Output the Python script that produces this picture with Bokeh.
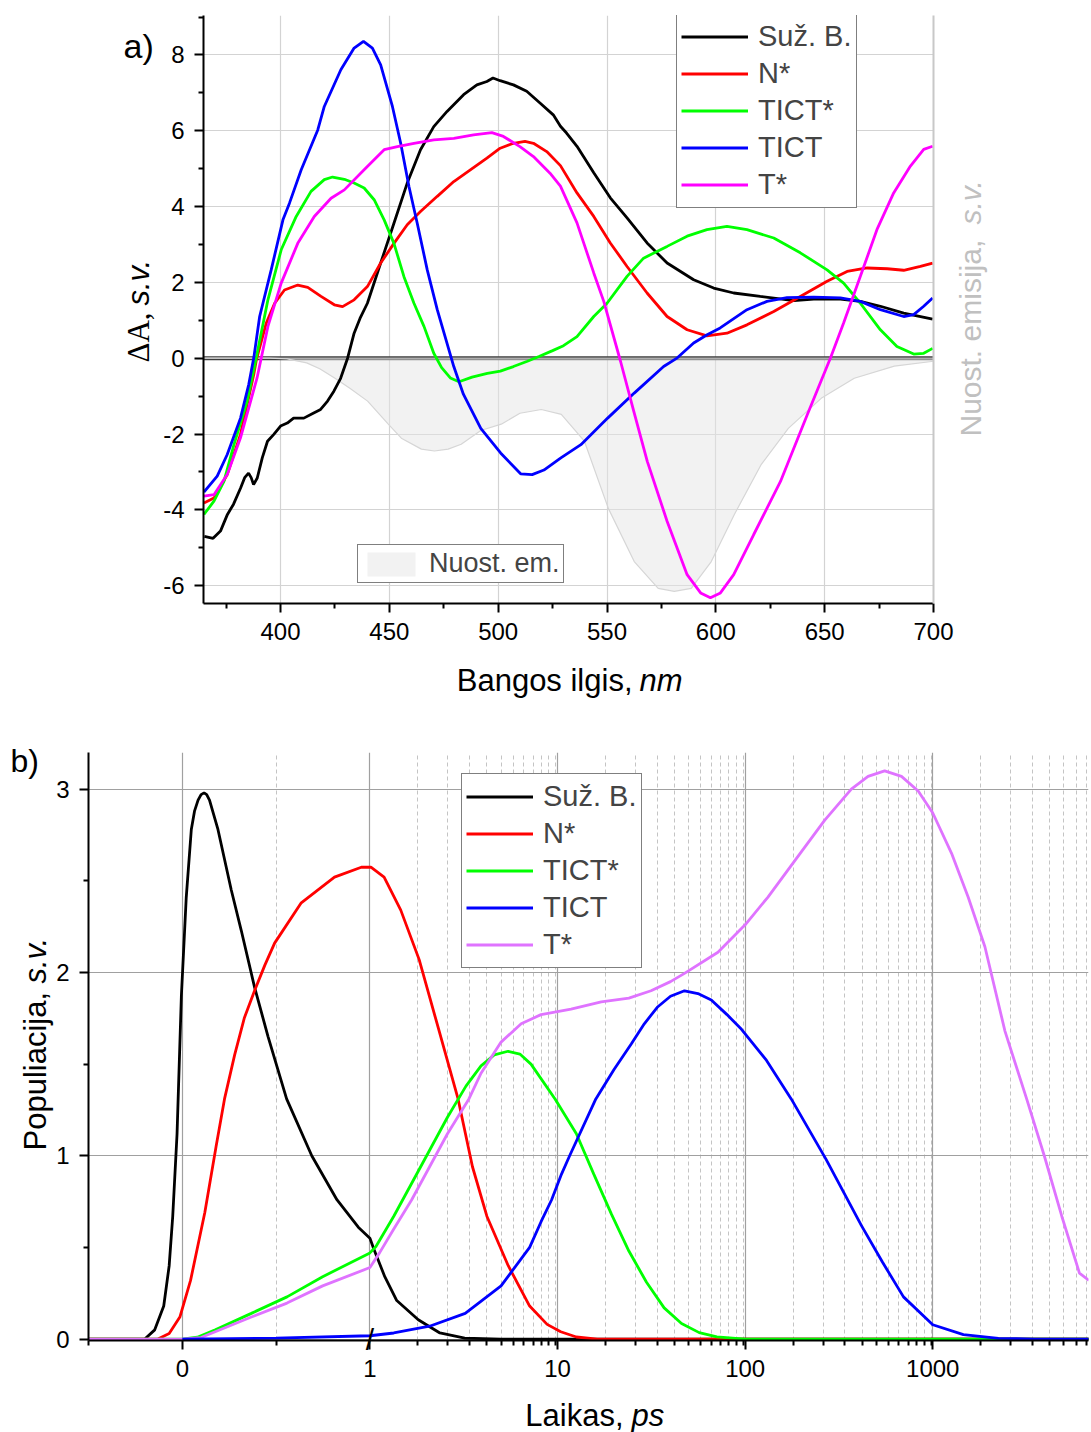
import math

from bokeh.embed import file_html
from bokeh.models import (FixedTicker, Label, Legend, LegendItem, LinearAxis,
                          Range1d, Span)
from bokeh.plotting import figure
from bokeh.resources import INLINE

FONT = "Liberation Sans"

# ---------------------------------------------------------------------------
# a) species-associated difference spectra, wavelength in nm, dA in s.v.
# ---------------------------------------------------------------------------
wl_susb = [365, 369, 372.4, 375.6, 378.4, 381.6, 383.5, 385.3, 386.5, 387.6, 389.3,
           391.6, 394, 396.9, 400, 403.1, 406, 410.7, 415, 418.4, 421.6, 424.5,
           427.6, 430.8, 433.8, 436.5, 439.9, 446, 452.1, 458.2, 464.3, 470.4,
           476.5, 484.1, 490.2, 494.8, 497.6, 500.9, 507, 513.1, 519.2, 525.3,
           528.6, 531.4, 536.2, 543.9, 551.5, 559.2, 568.4, 577.6, 589.8, 599,
           608.2, 620.4, 635.8, 645, 657.2, 666.4, 675.6, 686.3, 699.6]
da_susb = [-4.70, -4.75, -4.56, -4.12, -3.85, -3.43, -3.15, -3.03, -3.15, -3.33, -3.16,
           -2.63, -2.19, -2.01, -1.79, -1.71, -1.58, -1.58, -1.45, -1.35, -1.13, -0.87,
           -0.53, 0.0, 0.66, 1.05, 1.45, 2.51, 3.56, 4.62, 5.50, 6.11,
           6.51, 6.95, 7.21, 7.30, 7.39, 7.32, 7.21, 7.04, 6.73, 6.42,
           6.12, 5.94, 5.59, 4.89, 4.23, 3.70, 3.04, 2.51, 2.07, 1.85,
           1.72, 1.63, 1.52, 1.56, 1.56, 1.50, 1.37, 1.19, 1.03]

wl_n = [364.8, 369.4, 375.5, 381.6, 387.7, 388.9, 393.4, 397.3, 401.8, 407.9, 412.5,
        418.6, 424.7, 428.5, 433.8, 439.9, 446, 452.1, 458.2, 464.3, 472, 479.6,
        487.2, 494.8, 500.9, 507, 512.3, 516.2, 522.3, 528.6, 536.2, 543.9, 551.5,
        559.2, 568.4, 577.6, 586.8, 595.9, 605.1, 614.3, 626.6, 638.8, 651.1,
        660.3, 669.5, 678.7, 686.3, 694, 699.6]
da_n = [-3.82, -3.69, -3.07, -2.01, -0.43, -0.04, 0.92, 1.45, 1.80, 1.93, 1.87,
        1.63, 1.41, 1.36, 1.54, 1.89, 2.51, 3.03, 3.52, 3.87, 4.27, 4.66,
        4.97, 5.28, 5.54, 5.67, 5.72, 5.67, 5.45, 5.08, 4.36, 3.74, 3.04,
        2.42, 1.72, 1.10, 0.75, 0.59, 0.66, 0.88, 1.23, 1.63, 2.03,
        2.29, 2.38, 2.36, 2.32, 2.42, 2.51]

wl_tict_x = [364.8, 369.4, 374, 378.6, 384.7, 388.5, 394.2, 400.3, 407.2, 414, 420.1,
             423.9, 429.3, 433.8, 438.4, 443, 447.6, 452.1, 456.7, 461.3, 465.9, 470.4,
             474, 478, 482, 488, 495, 501, 507, 513.4, 519, 525, 530, 536.2, 543.9,
             550, 559.2, 566.8, 577.6, 586.8, 595.9, 605.1, 614.3, 626.6, 638.8,
             651.1, 658.7, 666.4, 675.6, 683.2, 690.9, 695.5, 699.6]
da_tict_x = [-4.12, -3.77, -3.25, -2.28, -1.13, -0.08, 1.54, 2.86, 3.74, 4.40, 4.71,
             4.78, 4.72, 4.62, 4.49, 4.18, 3.65, 3.03, 2.15, 1.45, 0.84, 0.13,
             -0.25, -0.52, -0.62, -0.50, -0.40, -0.34, -0.22, -0.08, 0.05, 0.20, 0.33,
             0.57, 1.10, 1.45, 2.16, 2.64, 2.95, 3.22, 3.39, 3.48, 3.39, 3.17, 2.78,
             2.33, 1.98, 1.45, 0.75, 0.31, 0.11, 0.13, 0.26]

wl_tict = [364.8, 370.9, 375.5, 381.6, 385.4, 387.7, 390.4, 395.7, 401.1, 404.1, 409.5,
           417.1, 420.1, 427.7, 433.8, 438.1, 442.2, 446, 451.4, 455.2, 459, 462.8,
           467.4, 472, 479.6, 484, 492, 501.1, 510.3, 515.6, 521, 528.8, 538, 550.3,
           562.5, 576, 582.3, 589.8, 596, 602, 614.3, 623.5, 632.7, 645, 657.2,
           666.4, 675.6, 686.3, 690.9, 695.5, 699.6]
da_tict = [-3.53, -3.11, -2.54, -1.58, -0.69, 0.01, 1.10, 2.33, 3.65, 4.09, 4.97,
           6.02, 6.64, 7.61, 8.18, 8.36, 8.18, 7.74, 6.64, 5.67, 4.53, 3.56,
           2.33, 1.28, -0.22, -0.95, -1.85, -2.50, -3.05, -3.07, -2.95, -2.63, -2.28, -1.58,
           -0.92, -0.22, 0.01, 0.40, 0.62, 0.80, 1.28, 1.50, 1.60, 1.61, 1.59,
           1.50, 1.28, 1.10, 1.15, 1.37, 1.59]

wl_t = [364.8, 369.4, 375.5, 381.6, 389.2, 394.2, 400.3, 407.9, 415.5, 423.2, 429.3,
        438.4, 447.6, 453.7, 461.3, 470.4, 479.6, 488.7, 497.1, 502.4, 510, 516.2,
        523.8, 528.6, 536.2, 543.9, 548.5, 556.2, 562.3, 568.5, 577.6, 586.8, 593,
        597.5, 602.1, 608.2, 617.4, 629.7, 642, 652.7, 658.7, 666.4, 674, 681.7,
        689.4, 695.5, 699.6]
da_t = [-3.64, -3.60, -3.07, -2.10, -0.52, 0.84, 1.98, 3.03, 3.74, 4.22, 4.44,
        4.97, 5.50, 5.58, 5.67, 5.76, 5.80, 5.89, 5.95, 5.85, 5.58, 5.32,
        4.88, 4.54, 3.57, 2.25, 1.50, -0.08, -1.40, -2.72, -4.30, -5.71, -6.19,
        -6.32, -6.19, -5.71, -4.65, -3.25, -1.49, 0.01, 0.93, 2.16, 3.39, 4.36,
        5.07, 5.51, 5.59]

# steady-state emission, normalised (plotted downwards on its own axis)
wl_em = [365, 395, 403, 412, 418, 425, 432, 440, 449.5, 455.5, 464.7, 470.7, 477,
         483, 492, 501.4, 510, 519.8, 529, 539.6, 550.6, 562.5, 573.5, 580.9,
         588.7, 597.9, 608.5, 620.9, 633.3, 648.4, 663.6, 682, 700]
em = [0, 0, 0.003, 0.02, 0.045, 0.086, 0.13, 0.184, 0.283, 0.343, 0.39, 0.398, 0.39,
      0.369, 0.31, 0.283, 0.236, 0.22, 0.241, 0.356, 0.644, 0.872, 0.987, 1.0,
      0.987, 0.872, 0.67, 0.455, 0.301, 0.172, 0.086, 0.034, 0.013]

wl_ticks = [400, 450, 500, 550, 600, 650, 700]
wl_minor = [375, 425, 475, 525, 575, 625, 675]
da_ticks = [-6, -4, -2, 0, 2, 4, 6, 8]
da_tick_labels = ["-6", "-4", "-2", "0", "2", "4", "6", "8"]
da_minor = [-5, -3, -1, 1, 3, 5, 7, 9]

# ---------------------------------------------------------------------------
# b) species populations vs delay time, ps
# ---------------------------------------------------------------------------
t_susb = [-0.5, -0.2, -0.147, -0.099, -0.07, -0.051, -0.028, -0.005, 0.021, 0.048,
          0.065, 0.084, 0.10, 0.116, 0.13, 0.145, 0.19, 0.261, 0.314, 0.385, 0.457,
          0.556, 0.69, 0.824, 0.938, 1.0, 1.05, 1.2, 1.39, 1.81, 2.36, 3.2, 5, 7000]
p_susb = [0, 0, 0.05, 0.18, 0.40, 0.67, 1.12, 1.87, 2.41, 2.78,
          2.88, 2.94, 2.97, 2.98, 2.97, 2.94, 2.78, 2.45, 2.23, 1.92, 1.65,
          1.31, 1.00, 0.76, 0.61, 0.55, 0.49, 0.34, 0.21, 0.105, 0.033, 0.005, 0, 0]

t_n = [-0.5, -0.13, -0.07, -0.013, 0.044, 0.12, 0.18, 0.225, 0.279, 0.33, 0.385, 0.44,
       0.492, 0.634, 0.811, 0.954, 1.012, 1.19, 1.46, 1.83, 2.31, 2.95, 3.52, 4.2, 5.46,
       7.1, 8.8, 10.4, 12.6, 16.3, 7000]
p_n = [0, 0, 0.03, 0.12, 0.32, 0.69, 1.05, 1.31, 1.55, 1.75, 1.90, 2.04,
       2.16, 2.38, 2.52, 2.574, 2.574, 2.52, 2.34, 2.07, 1.70, 1.31, 0.94, 0.67, 0.40,
       0.18, 0.08, 0.04, 0.011, 0.0, 0]

t_tict_x = [-0.5, 0, 0.08, 0.176, 0.368, 0.558, 0.748, 1.0, 1.077, 1.34, 1.67, 2.08,
            2.59, 3.25, 3.91, 4.6, 5.45, 6.3, 7.22, 9.7, 12.6, 15.6, 19.4, 24, 29.8,
            37, 45.8, 56.9, 70.7, 100, 7000]
p_tict_x = [0, 0, 0.01, 0.05, 0.14, 0.23, 0.34, 0.47, 0.505, 0.67, 0.85, 1.03,
            1.21, 1.38, 1.49, 1.55, 1.57, 1.555, 1.50, 1.31, 1.12, 0.90, 0.68, 0.48, 0.31,
            0.17, 0.085, 0.035, 0.012, 0, 0]

t_tict = [0, 0.5, 1.0, 1.34, 2.08, 3.22, 5.0, 7.1, 8.17, 9.3, 10.5, 11.6, 16.0, 20.0,
          24.7, 29.0, 34.0, 40.0, 47.5, 56.0, 66.0, 80.0, 95.6, 130, 176, 270, 416, 539,
          698, 1000, 1456, 2240, 3500, 7000]
p_tict = [0, 0.005, 0.018, 0.033, 0.07, 0.14, 0.29, 0.50, 0.64, 0.76, 0.90, 1.0, 1.31, 1.47,
          1.61, 1.72, 1.81, 1.87, 1.90, 1.885, 1.85, 1.77, 1.69, 1.52, 1.31, 0.98, 0.62, 0.42,
          0.23, 0.078, 0.024, 0.004, 0, 0]

t_t = [-0.5, 0, 0.1, 0.368, 0.558, 0.748, 1.0, 1.125, 1.34, 1.67, 2.08, 2.59, 3.37,
       3.91, 5.0, 6.4, 8.17, 11.8, 17.1, 24.0, 31.5, 40.0, 47.5, 71.6, 100, 132, 184, 265,
       368, 452, 554, 681, 836, 1000, 1259, 1545, 1896, 2425, 3165, 3929, 4871, 6050, 6800]
p_t = [0, 0, 0.008, 0.12, 0.196, 0.29, 0.39, 0.47, 0.60, 0.76, 0.94, 1.12, 1.31,
       1.45, 1.62, 1.72, 1.77, 1.80, 1.84, 1.86, 1.90, 1.95, 1.995, 2.11, 2.26, 2.41, 2.61,
       2.83, 3.00, 3.07, 3.10, 3.07, 2.99, 2.87, 2.65, 2.41, 2.14, 1.68, 1.31, 1.00, 0.67,
       0.36, 0.32]

time_ticks = [0, 1, 10, 100, 1000]
time_tick_labels = ["0", "1", "10", "100", "1000"]
decade_minor_mantissa = [1.8, 2.6, 3.4, 4.2, 5.0, 5.8, 6.6, 7.4, 8.2, 9.0, 9.8]
pop_ticks = [0, 1, 2, 3]
pop_minor = [0.5, 1.5, 2.5]

legend_names = ["Suž. B.", "N*", "TICT*", "TICT", "T*"]
colors_a = ["#000000", "#FF0000", "#00FF00", "#0000FF", "#FF00FF"]
colors_b = ["#000000", "#FF0000", "#00FF00", "#0000FF", "#DF73FF"]

# page geometry (px): both panels share the page width, stacked vertically
PAGE_W = 1091
A_H, B_H = 720, 712
A_FRAME = dict(left=203, right=158, top=15, bottom=117)
B_FRAME = dict(left=88, right=3, top=32, bottom=92)
A_X = (364.6, 700.0)
A_Y = (-6.47, 9.04)
B_X = (-0.5, 4.83)
B_Y = (-0.008, 3.2)
LINE_W = 2.8


def lin_log(t):
    """Time axis: linear up to 1 ps, logarithmic (one unit per decade) beyond."""
    return t if t <= 1 else 1 + math.log10(t)


def style_axis(ax, ticker, standoff):
    ax.ticker = ticker
    ax.axis_line_width = 2
    ax.axis_line_color = "black"
    ax.major_tick_line_width = 2
    ax.minor_tick_line_width = 2
    ax.major_tick_in = 0
    ax.major_tick_out = 9
    ax.minor_tick_in = 0
    ax.minor_tick_out = 5
    ax.major_label_text_font = FONT
    ax.major_label_text_font_size = "24px"
    ax.major_label_text_color = "black"
    ax.major_label_standoff = standoff


def make_panel(height, frame, xr, yr):
    p = figure(width=PAGE_W, height=height, output_backend="svg", toolbar_location=None,
               x_range=Range1d(*xr), y_range=Range1d(*yr))
    p.min_border_left = frame["left"]
    p.min_border_right = frame["right"]
    p.min_border_top = frame["top"]
    p.min_border_bottom = frame["bottom"]
    p.outline_line_color = None
    return p


# ---------------------------------------------------------------------------
# panel a
# ---------------------------------------------------------------------------
EM_DEPTH = 6.15  # emission maximum sits at dA = -6.15 on the left scale
p1 = make_panel(A_H, A_FRAME, A_X, A_Y)
p1.extra_y_ranges = {"em": Range1d(start=-A_Y[0] / EM_DEPTH, end=-A_Y[1] / EM_DEPTH)}

style_axis(p1.xaxis[0], FixedTicker(ticks=wl_ticks, minor_ticks=wl_minor), 10)
style_axis(p1.yaxis[0], FixedTicker(ticks=da_ticks, minor_ticks=da_minor), 10)
p1.yaxis[0].major_label_overrides = dict(zip(da_ticks, da_tick_labels))
for g in (p1.xgrid[0], p1.ygrid[0]):
    g.grid_line_color = "#d3d3d3"
    g.grid_line_width = 1.2

em_axis = LinearAxis(y_range_name="em", ticker=FixedTicker(ticks=[]),
                     axis_line_color="#c8c8c8", axis_line_width=2,
                     major_tick_line_color=None, minor_tick_line_color=None,
                     major_label_text_font_size="0px")
p1.add_layout(em_axis, "right")

em_fill = p1.varea(x=wl_em, y1=[0] * len(em), y2=em, y_range_name="em",
                   fill_color="#e5e5e5", fill_alpha=0.5)
p1.line(wl_em, em, y_range_name="em", line_color="#d6d6d6", line_width=1.2)

p1.add_layout(Span(location=0, dimension="width", line_color="#3c3c3c",
                   line_width=4, level="underlay"))
p1.add_layout(Span(location=0, dimension="width", line_color="#a8a8a8",
                   line_width=1.3, level="underlay"))

series_a = [(wl_susb, da_susb), (wl_n, da_n), (wl_tict_x, da_tict_x),
            (wl_tict, da_tict), (wl_t, da_t)]
rs_a = []
for (xs, ys), c in zip(series_a, colors_a):
    rs_a.append(p1.line(xs, ys, line_color=c, line_width=LINE_W))

leg_a = Legend(items=[LegendItem(label=n, renderers=[r]) for n, r in zip(legend_names, rs_a)],
               location=(473, 395), margin=0, padding=4, spacing=0,
               glyph_width=67, glyph_height=37, label_height=37, label_standoff=10,
               label_text_font=FONT, label_text_font_size="29px",
               border_line_color="black", border_line_width=1,
               background_fill_color="white", background_fill_alpha=1.0)
p1.add_layout(leg_a)

leg_em = Legend(items=[LegendItem(label="Nuost. em.", renderers=[em_fill])],
                location=(154, 20), margin=0, padding=3, spacing=0,
                glyph_width=60, glyph_height=30, label_height=30, label_standoff=8,
                label_text_font=FONT, label_text_font_size="27px",
                border_line_color="black", border_line_width=1,
                background_fill_color="white", background_fill_alpha=1.0)
p1.add_layout(leg_em)

# ---------------------------------------------------------------------------
# panel b
# ---------------------------------------------------------------------------
p2 = make_panel(B_H, B_FRAME, B_X, B_Y)

tpos = [lin_log(t) for t in time_ticks]
tminor = [B_X[0], 0.5]
for d in range(4):
    for m in decade_minor_mantissa:
        u = lin_log(m * 10 ** d)
        if u < B_X[1]:
            tminor.append(u)
style_axis(p2.xaxis[0], FixedTicker(ticks=tpos, minor_ticks=tminor), 10)
p2.xaxis[0].major_label_overrides = dict(zip(tpos, time_tick_labels))
style_axis(p2.yaxis[0], FixedTicker(ticks=pop_ticks, minor_ticks=pop_minor), 10)

p2.xgrid[0].grid_line_color = "#a0a0a0"
p2.xgrid[0].grid_line_width = 1.2
p2.xgrid[0].minor_grid_line_color = "#c4c4c4"
p2.xgrid[0].minor_grid_line_width = 1
p2.xgrid[0].minor_grid_line_dash = "4 3"
p2.ygrid[0].grid_line_color = "#a0a0a0"
p2.ygrid[0].grid_line_width = 1.2

series_b = [(t_susb, p_susb), (t_n, p_n), (t_tict_x, p_tict_x), (t_t, p_t), (t_tict, p_tict)]
colors_b_order = [colors_b[0], colors_b[1], colors_b[2], colors_b[4], colors_b[3]]
rs_b = {}
for (ts, ps), c in zip(series_b, colors_b_order):
    rs_b[c] = p2.line([lin_log(t) for t in ts], ps, line_color=c, line_width=LINE_W)

leg_b = Legend(items=[LegendItem(label=n, renderers=[rs_b[c]]) for n, c in zip(legend_names, colors_b)],
               location=(373, 372), margin=0, padding=4, spacing=0,
               glyph_width=67, glyph_height=37, label_height=37, label_standoff=10,
               label_text_font=FONT, label_text_font_size="29px",
               border_line_color="black", border_line_width=1,
               background_fill_color="white", background_fill_alpha=1.0)
p2.add_layout(leg_b)

# ---------------------------------------------------------------------------
# transparent page-sized layer for axis titles, panel tags and the axis break;
# texts there are not clipped to either panel's frame
# ---------------------------------------------------------------------------
PAGE_H = A_H + B_H
ov = figure(width=PAGE_W, height=PAGE_H, output_backend="svg", toolbar_location=None,
            x_range=Range1d(0, PAGE_W), y_range=Range1d(PAGE_H, 0),
            x_axis_location=None, y_axis_location=None, min_border=0,
            styles={"position": "absolute", "left": "0px", "top": "0px",
                    "pointer-events": "none"})
ov.grid.visible = False
ov.outline_line_color = None
ov.background_fill_color = None
ov.border_fill_color = None


def b_px(u, v):
    """Page pixel position of a panel-b data point."""
    fw = PAGE_W - B_FRAME["left"] - B_FRAME["right"]
    fh = B_H - B_FRAME["top"] - B_FRAME["bottom"]
    x = B_FRAME["left"] + (u - B_X[0]) / (B_X[1] - B_X[0]) * fw
    y = A_H + B_FRAME["top"] + (B_Y[1] - v) / (B_Y[1] - B_Y[0]) * fh
    return x, y


def text(x, y, s, size="31px", style="normal", font=FONT, color="black",
         angle=0.0, align="left", baseline="middle"):
    ov.add_layout(Label(x=x, y=y, text=s, text_font=font, text_font_size=size,
                        text_font_style=style, text_color=color, angle=angle,
                        text_align=align, text_baseline=baseline))


UP = math.pi / 2
# panel a
text(123, 45, "a)", size="34px")
text(632, 680, "Bangos ilgis,", align="right")
text(639, 680, "nm", style="italic")
text(138, 362, "ΔA,", font="Liberation Serif", angle=UP)
text(138, 305, "s.v.", style="italic", angle=UP)
text(970, 436, "Nuost. emisija,", size="30px", color="#c0c0c0", angle=UP)
text(970, 224, "s.v.", size="30px", style="italic", color="#c0c0c0", angle=UP)
# panel b
text(10, 760, "b)", size="32px")
text(623, 1415, "Laikas,", align="right")
text(631, 1415, "ps", style="italic")
text(35, 1150, "Populiacija,", angle=UP)
text(35, 983, "s.v.", style="italic", angle=UP)
bx, by = b_px(lin_log(1), 0)
text(bx, by, "/", size="30px", align="center")

open("out.html", "w").write(file_html([p1, p2, ov], INLINE))
